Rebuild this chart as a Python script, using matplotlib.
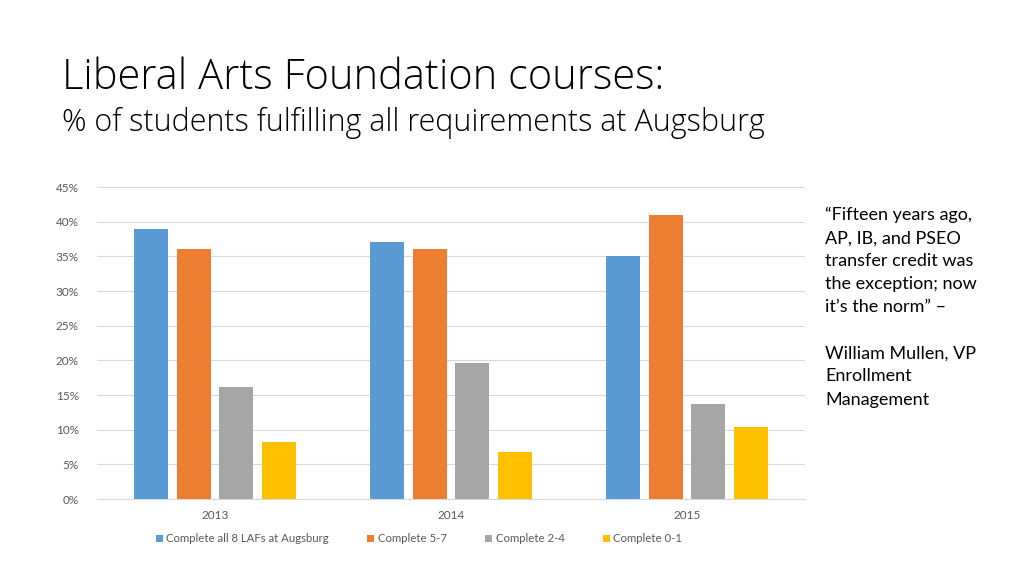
import numpy as np
import matplotlib.pyplot as plt
from matplotlib.ticker import FuncFormatter

years = ['2013', '2014', '2015']
series_names = ['Complete all 8 LAFs at Augsburg', 'Complete 5-7', 'Complete 2-4', 'Complete 0-1']
all8 = [39.0, 37.0, 35.0]
c57 = [36.0, 36.0, 41.0]
c24 = [16.1, 19.6, 13.7]
c01 = [8.2, 6.8, 10.4]
colors = ['#5B9BD5', '#ED7D31', '#A5A5A5', '#FFC000']

FONT = 'Lato'
TITLE_FONT = 'Open Sans'

fig = plt.figure(figsize=(10.24, 5.76), dpi=100)
ax = fig.add_axes([97 / 1024, 1 - 499 / 576, 708 / 1024, 312 / 576])

x = np.arange(len(years))
w = 0.144
step = 0.182
for i, (vals, name, col) in enumerate(zip([all8, c57, c24, c01], series_names, colors)):
    ax.bar(x + (i - 1.5) * step, vals, width=w, color=col, label=name, zorder=3)

ax.set_xlim(-0.5, 2.5)
ax.set_ylim(0, 45)
ax.set_yticks(np.arange(0, 46, 5))
ax.yaxis.set_major_formatter(FuncFormatter(lambda v, p: f'{v:.0f}%'))
ax.set_xticks(x)
ax.set_xticklabels(years)
ax.grid(axis='y', color='#D9D9D9', linewidth=0.8, zorder=0)
for s in ['top', 'right', 'left']:
    ax.spines[s].set_visible(False)
ax.spines['bottom'].set_color('#D9D9D9')
ax.tick_params(axis='both', length=0, labelsize=8.5, colors='#595959')
ax.tick_params(axis='y', pad=13)
ax.tick_params(axis='x', pad=8)
for lab in ax.get_xticklabels() + ax.get_yticklabels():
    lab.set_family(FONT)

ax.legend(loc='upper center', bbox_to_anchor=(0.455, -0.077), ncol=4, frameon=False,
          handlelength=0.6, handleheight=0.6, handletextpad=0.3, columnspacing=3.4,
          prop={'family': FONT, 'size': 8.2}, labelcolor='#595959')

fig.text(62 / 1024, 1 - 78 / 576, 'Liberal Arts Foundation courses:', fontsize=30,
         family=TITLE_FONT, fontweight='light', color='#000000', va='center')
fig.text(62 / 1024, 1 - 123 / 576, '% of students fulfilling all requirements at Augsburg',
         fontsize=22, family=TITLE_FONT, fontweight='light', color='#000000', va='center')

quote = ('\u201cFifteen years ago,\nAP, IB, and PSEO\ntransfer credit was\nthe exception; now\n'
         'it\u2019s the norm\u201d \u2013\n\nWilliam Mullen, VP\nEnrollment\nManagement')
fig.text(825 / 1024, 1 - 207 / 576, quote, fontsize=13, family=FONT,
         color='#000000', va='top', linespacing=1.54)

fig.savefig('out.png', dpi=100)
